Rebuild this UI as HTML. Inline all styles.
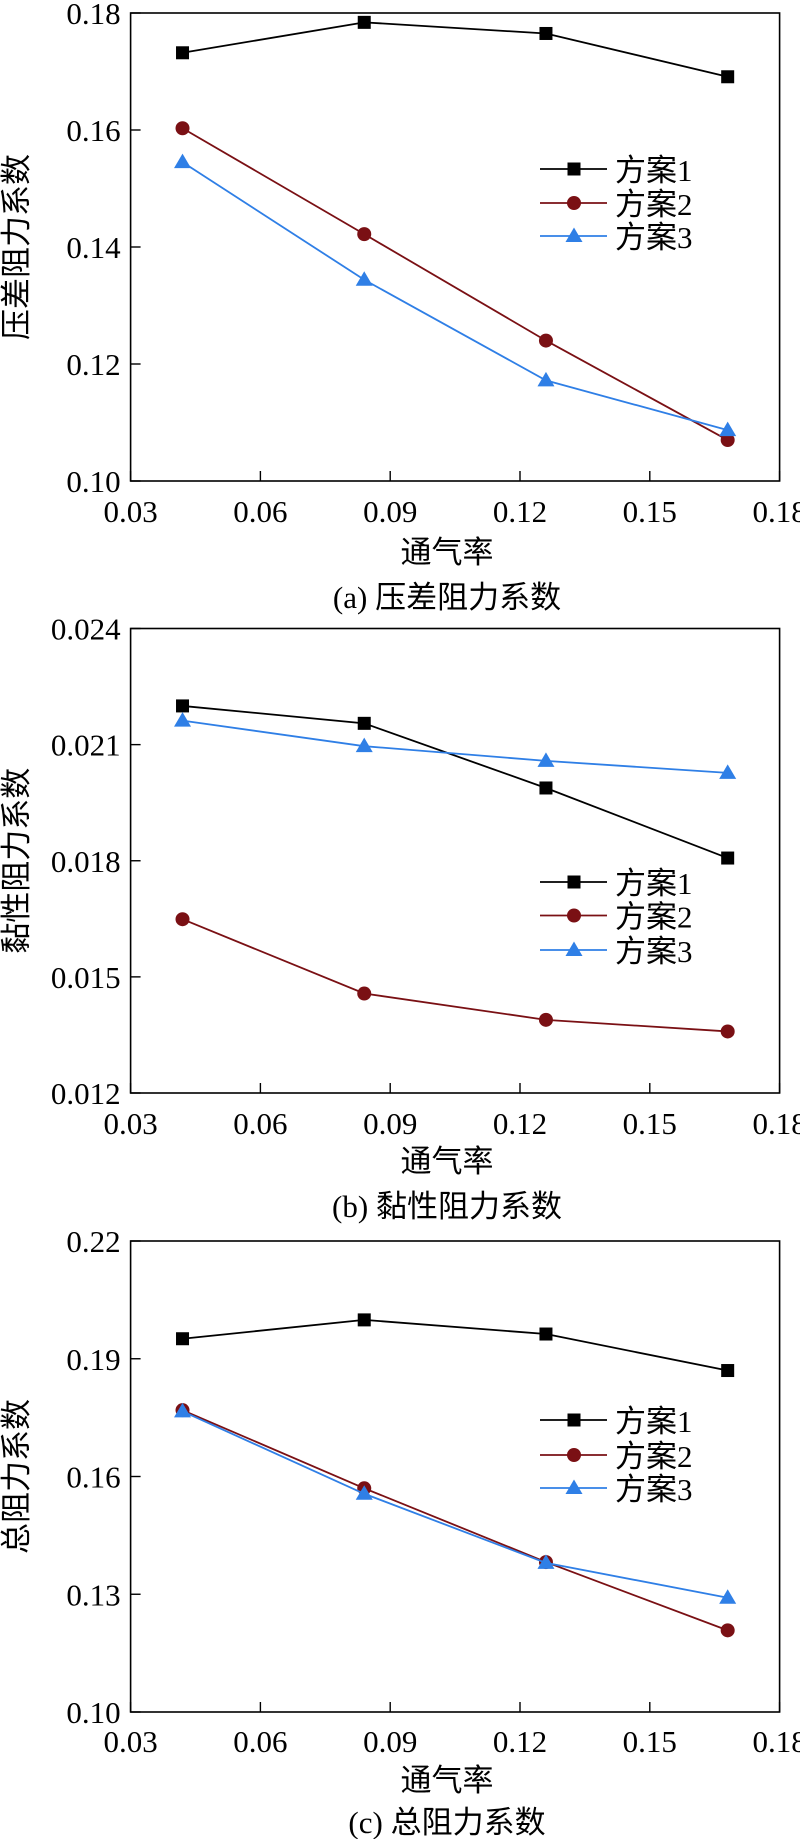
<!DOCTYPE html>
<html><head><meta charset="utf-8"><style>
html,body{margin:0;padding:0;background:#fff;}
svg{display:block;}
text{font-family:"Liberation Serif","Noto Sans CJK SC",serif;fill:#000;}
</style></head><body>
<svg id="fig" width="800" height="1839" viewBox="0 0 800 1839" xmlns="http://www.w3.org/2000/svg"></svg>
<script>
const xTicks = [0.03, 0.06, 0.09, 0.12, 0.15, 0.18];
const xTickLabels = ["0.03","0.06","0.09","0.12","0.15","0.18"];
const xValues = [0.042, 0.084, 0.126, 0.168];
const seriesNames = ["方案1","方案2","方案3"];

const aYTicks = [0.10,0.12,0.14,0.16,0.18];
const aYTickLabels = ["0.10","0.12","0.14","0.16","0.18"];
const aS1 = [0.1732, 0.1784, 0.1765, 0.1691];
const aS2 = [0.1603, 0.1422, 0.1240, 0.1070];
const aS3 = [0.1545, 0.1344, 0.1172, 0.1087];

const bYTicks = [0.012,0.015,0.018,0.021,0.024];
const bYTickLabels = ["0.012","0.015","0.018","0.021","0.024"];
const bS1 = [0.02200, 0.02155, 0.01988, 0.01807];
const bS2 = [0.01649, 0.01457, 0.01389, 0.01359];
const bS3 = [0.02162, 0.02096, 0.02058, 0.02027];

const cYTicks = [0.10,0.13,0.16,0.19,0.22];
const cYTickLabels = ["0.10","0.13","0.16","0.19","0.22"];
const cS1 = [0.1951, 0.1999, 0.1963, 0.1870];
const cS2 = [0.1769, 0.1570, 0.1382, 0.1208];
const cS3 = [0.1766, 0.1556, 0.1380, 0.1291];

const NS="http://www.w3.org/2000/svg";
const svg=document.getElementById('fig');
const colors=["#000000","#7a1014","#2f7fe6"];
function mk(tag,attrs,parent){const e=document.createElementNS(NS,tag);for(const k in attrs)e.setAttribute(k,attrs[k]);(parent||svg).appendChild(e);return e;}

function panel(id,top,bottom,yTicks,yLabels,series,yTitle,caption,legY,tickY,titleY,capY){
  const g=mk('g',{});
  
  
  const L=130.6,R=779.6;
  const x=v=>L+(v-0.03)/(0.18-0.03)*(R-L);
  const y0=yTicks[0],y1=yTicks[yTicks.length-1];
  const y=v=>bottom-(v-y0)/(y1-y0)*(bottom-top);
  const frame=mk('rect',{x:L,y:top,width:R-L,height:bottom-top,fill:'none',stroke:'#000','stroke-width':1.6},g);
  
  
  xTicks.forEach((t,i)=>{
    const tk=mk('line',{x1:x(t),x2:x(t),y1:bottom,y2:bottom-10,stroke:'#000','stroke-width':1.4},g);
    
    
    const tl=mk('text',{x:x(t),y:tickY,'font-size':31,'text-anchor':'middle'},g);
    tl.textContent=xTickLabels[i];
    
    
  });
  yTicks.forEach((t,i)=>{
    const tk=mk('line',{x1:L,x2:L+10,y1:y(t),y2:y(t),stroke:'#000','stroke-width':1.4},g);
    
    
    const tl=mk('text',{x:L-10,y:y(t)+11,'font-size':31,'text-anchor':'end'},g);
    tl.textContent=yLabels[i];
    
    
  });
  function marker(k,cx,cy,par){
    let m;
    if(k===0) m=mk('rect',{x:cx-6.5,y:cy-6.5,width:13,height:13,fill:colors[0]},par);
    else if(k===1) m=mk('circle',{cx:cx,cy:cy,r:7,fill:colors[1]},par);
    else m=mk('polygon',{points:`${cx},${cy-8.5} ${cx+8.5},${cy+6} ${cx-8.5},${cy+6}`,fill:colors[2]},par);
    return m;
  }
  series.forEach((s,k)=>{
    const sg=mk('g',{},g);
    
    
    const pts=s.map((v,i)=>x(xValues[i])+','+y(v)).join(' ');
    const pl=mk('polyline',{points:pts,fill:'none',stroke:colors[k],'stroke-width':1.8},sg);
    
    
    s.forEach((v,i)=>{
      const m=marker(k,x(xValues[i]),y(v),sg);
      
      
    });
  });
  const lg=mk('g',{},g);
  
  
  seriesNames.forEach((n,k)=>{
    const ly=legY[k];
    const ln=mk('line',{x1:540,x2:607,y1:ly,y2:ly,stroke:colors[k],'stroke-width':1.8},lg);
    
    
    const m=marker(k,574,ly,lg);
    
    
    const t=mk('text',{x:615,y:ly+12,'font-size':31},lg);
    t.textContent=n;
    
    
  });
  const xt=mk('text',{x:447,y:titleY,'font-size':31,'text-anchor':'middle'},g);
  xt.textContent='通气率';
  
  
  const cy=(top+bottom)/2;
  const yt=mk('text',{x:0,y:0,'font-size':31,'text-anchor':'middle',transform:`translate(27,${cy}) rotate(-90)`},g);
  yt.textContent=yTitle;
  
  
  const cp=mk('text',{x:447,y:capY,'font-size':31,'text-anchor':'middle'},g);
  cp.textContent=caption;
  
  
}
panel('a',13,481,aYTicks,aYTickLabels,[aS1,aS2,aS3],'压差阻力系数','(a) 压差阻力系数',[169,203,236],522,563,608);
panel('b',628.5,1093,bYTicks,bYTickLabels,[bS1,bS2,bS3],'黏性阻力系数','(b) 黏性阻力系数',[882,915.5,950],1134,1172,1217);
panel('c',1241,1712,cYTicks,cYTickLabels,[cS1,cS2,cS3],'总阻力系数','(c) 总阻力系数',[1420,1455,1488],1752,1791,1833);
</script>
</body></html>
